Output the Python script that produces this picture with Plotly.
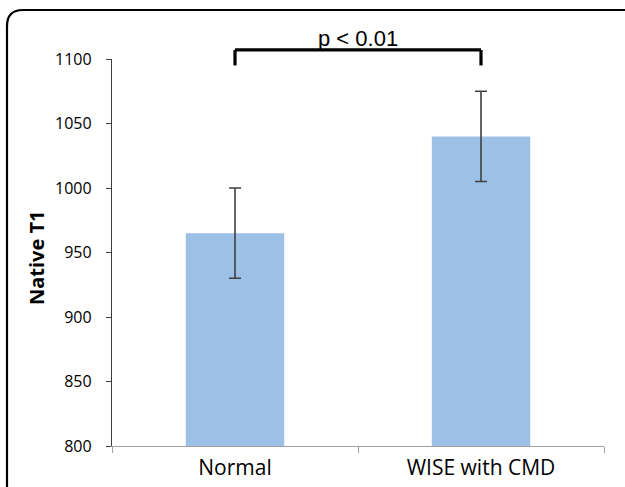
import plotly.graph_objects as go

categories = ["Normal", "WISE with CMD"]
values = [965, 1040]
errors = [35, 35]
y_ticks = [800, 850, 900, 950, 1000, 1050, 1100]
y_title = "Native T1"
p_label = "p < 0.01"
bracket_top = 1107
bracket_leg = 1095

W, H = 625, 487
L, R, T, B = 112, 21, 59, 41
pw, ph = W - L - R, H - T - B
ymin, ymax = 800, 1100

def px_x(px):
    return (px - L) / pw

def px_y(py):
    return (H - B - py) / ph

def val_y(v):
    return (v - ymin) / (ymax - ymin)

fig = go.Figure()
fig.add_trace(go.Bar(
    x=categories, y=values,
    marker=dict(color="#9DC1E6", line=dict(width=0)),
    error_y=dict(type="data", array=errors, visible=True,
                 color="#404040", thickness=1.6, width=6),
    width=0.4,
))

# rounded frame
x0, y0 = px_x(7), px_y(10)
x1, y1 = px_x(640), px_y(500)
rx, ry = 16 / pw, 16 / ph
path = (f"M {x0},{y1} L {x0},{y0 - ry} Q {x0},{y0} {x0 + rx},{y0} "
        f"L {x1},{y0}")
fig.add_shape(type="path", path=path, xref="paper", yref="paper",
              line=dict(color="black", width=2.2), layer="above")

# bracket
for (xa, ya, xb, yb) in [(0, bracket_top, 1, bracket_top),
                         (0, bracket_top, 0, bracket_leg),
                         (1, bracket_top, 1, bracket_leg)]:
    fig.add_shape(type="line", xref="x", yref="paper",
                  x0=xa, x1=xb, y0=val_y(ya), y1=val_y(yb),
                  line=dict(color="black", width=3.2))

fig.add_annotation(x=0.5, xref="x", y=val_y(bracket_top), yref="paper",
                   text=p_label, showarrow=False, yanchor="bottom", yshift=-3,
                   font=dict(family="Liberation Sans, Arial", size=22, color="black"))

fig.add_annotation(x=px_x(36), xref="paper", y=px_y(258), yref="paper",
                   text=f"<b>{y_title}</b>", textangle=-90, showarrow=False,
                   xanchor="center", yanchor="middle",
                   font=dict(family="Open Sans", size=20, color="black"))

fig.update_layout(
    width=W, height=H,
    margin=dict(l=L, r=R, t=T, b=B, autoexpand=False),
    paper_bgcolor="white", plot_bgcolor="white",
    showlegend=False,
    bargap=0.6,
)
fig.update_xaxes(
    showline=True, linecolor="#A0A0A0", linewidth=1.3,
    ticks="outside", tickson="boundaries", ticklen=6, tickcolor="#A0A0A0",
    tickfont=dict(family="Open Sans", size=21, color="black"),
    ticklabelstandoff=3, showgrid=False, fixedrange=True,
)
fig.update_yaxes(
    range=[ymin, ymax], tickvals=y_ticks,
    showline=True, linecolor="#404040", linewidth=1.3,
    ticks="outside", ticklen=5, tickcolor="#404040",
    tickfont=dict(family="Open Sans", size=16, color="black"),
    ticklabelstandoff=11, showgrid=False, zeroline=False,
)

fig.write_html("out.html", config={"displayModeBar": False},
               post_script="document.body.style.margin='0';")
